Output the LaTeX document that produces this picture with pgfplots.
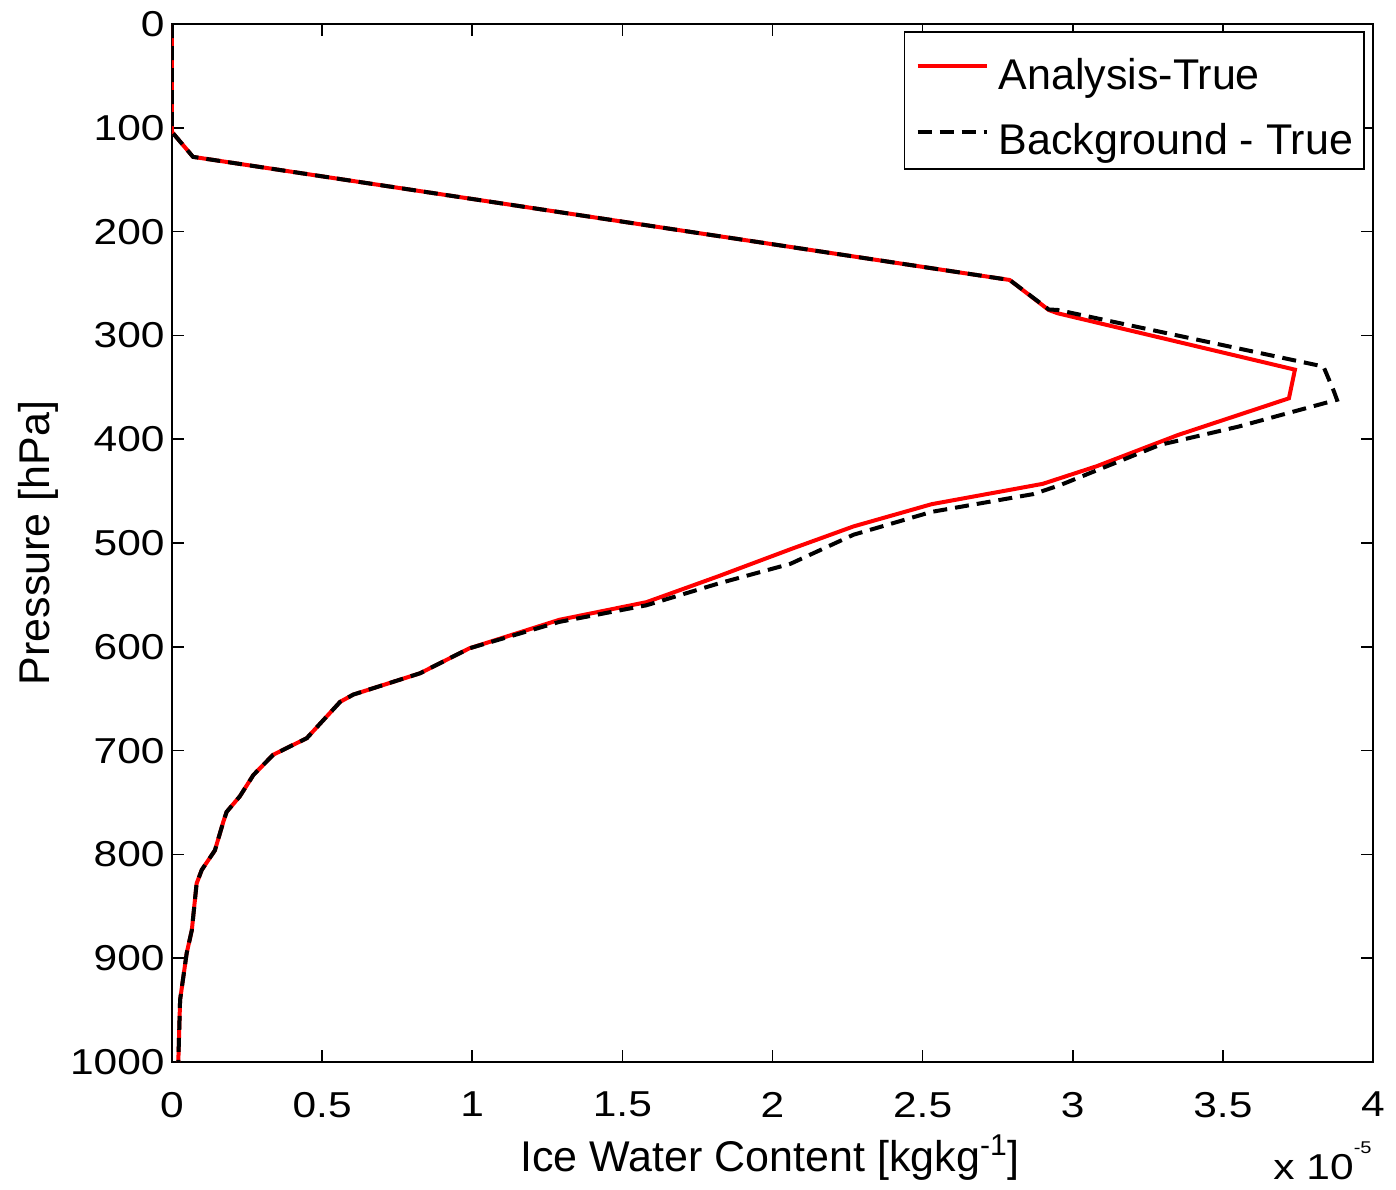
\documentclass[border=0pt]{standalone}
\usepackage{fontspec}
\setmainfont{Liberation Sans}
\newfontfamily\tickfamily{Liberation Sans}[FakeStretch=1.18]
\usepackage{pgfplots}
\pgfplotsset{compat=1.18}
\newcommand{\bigfont}{\fontsize{21.5}{25}\selectfont}
\newcommand{\tickfont}{\tickfamily\fontsize{18}{21}\selectfont}
\pgfplotsset{
  redimg/.style={legend image code/.code={\draw[##1] (0pt,0.8pt) -- (34.5pt,0.8pt);}},
  blackimg/.style={legend image code/.code={\draw[##1] (0pt,5.6pt) -- (34.5pt,5.6pt);}},
}
\begin{document}
\begin{tikzpicture}
\begin{axis}[
  scale only axis, width=600.5pt, height=519pt,
  xmin=0, xmax=4, ymin=0, ymax=1000, y dir=reverse,
  xtick={0,0.5,1,1.5,2,2.5,3,3.5,4},
  ytick={0,100,200,300,400,500,600,700,800,900,1000},
  tick align=inside, major tick length=6pt,
  axis line style={line width=0.8pt, black},
  every tick/.style={black, line width=0.8pt},
  tick label style={font=\tickfont},
  /pgf/number format/assume math mode=true,
  /pgf/number format/1000 sep={},
  xticklabel style={anchor=north, inner sep=0pt, yshift=-14.8pt},
  yticklabel style={anchor=east, inner sep=0pt, xshift=-3.5pt},
  xlabel={Ice Water Content [kgkg\textsuperscript{-1}]},
  ylabel={Pressure [hPa]},
  label style={font=\bigfont},
  xlabel style={at={(axis description cs:0.498,0)}, anchor=base, yshift=-54.5pt, inner sep=0pt},
  ylabel style={at={(axis description cs:-0.1116,0.5)}, anchor=center, inner sep=0pt},
  legend style={at={(0.9933,0.9933)}, anchor=north east, draw=black, line width=0.8pt, fill=white,
    font=\bigfont, inner xsep=5.5pt, inner ysep=2.8pt, row sep=12.4pt,
    nodes={inner sep=0pt, text depth=4.6pt}, column sep=5pt},
  legend cell align=left,
]
\coordinate (SW) at (axis description cs:0,0);
\coordinate (NE) at (axis description cs:1,1);
\addplot[red, line width=2pt, redimg] coordinates {
(0,0) (0,50) (0,104) (0.07,128) (1.425,187.1) (2.79,246.6) (2.92,275.5) (2.95,278.7)
(3.74,333) (3.72,360.6) (3.35,396) (3.08,426) (2.90,443) (2.53,462.6) (2.27,484)
(2.06,506) (1.82,532) (1.58,557) (1.29,574) (0.99,601.5) (0.826,625.5) (0.604,646)
(0.56,653) (0.449,688) (0.337,704) (0.271,723.5) (0.226,744) (0.182,759) (0.171,768.5)
(0.143,796) (0.099,815) (0.082,828) (0.066,873) (0.049,895) (0.027,940) (0.021,1000)
};
\addlegendentry{\rule{0pt}{25.9pt}Analysis-True}
\addplot[black, line width=2pt, dash pattern=on 7pt off 4pt, blackimg] coordinates {
(0,0) (0,50) (0,104) (0.07,128) (1.425,187.1) (2.79,246.6) (2.92,275) (2.95,275.5)
(3.835,330) (3.87,354) (3.88,362) (3.55,388) (3.29,405.5) (2.96,444) (2.87,452.8)
(2.53,470) (2.27,492) (2.06,520) (1.82,539) (1.58,560) (1.29,576) (0.99,601.5)
(0.826,625.5) (0.604,646) (0.56,653) (0.449,688) (0.337,704) (0.271,723.5) (0.226,744)
(0.182,759) (0.171,768.5) (0.143,796) (0.099,815) (0.082,828) (0.066,873) (0.049,895)
(0.027,940) (0.021,1000)
};
\addlegendentry{Background - True}
\end{axis}
\node[anchor=base east, inner sep=0pt, font=\tickfont] at ([xshift=-0.5pt,yshift=-58.8pt]SW -| NE) {x 10\raisebox{13.3pt}{\tickfamily\fontsize{8.5}{9}\selectfont -5}};
\pgfresetboundingbox
\useasboundingbox ([shift={(-86pt,-63.5pt)}]SW) rectangle ([shift={(11.5pt,12pt)}]NE);
\end{tikzpicture}
\end{document}
